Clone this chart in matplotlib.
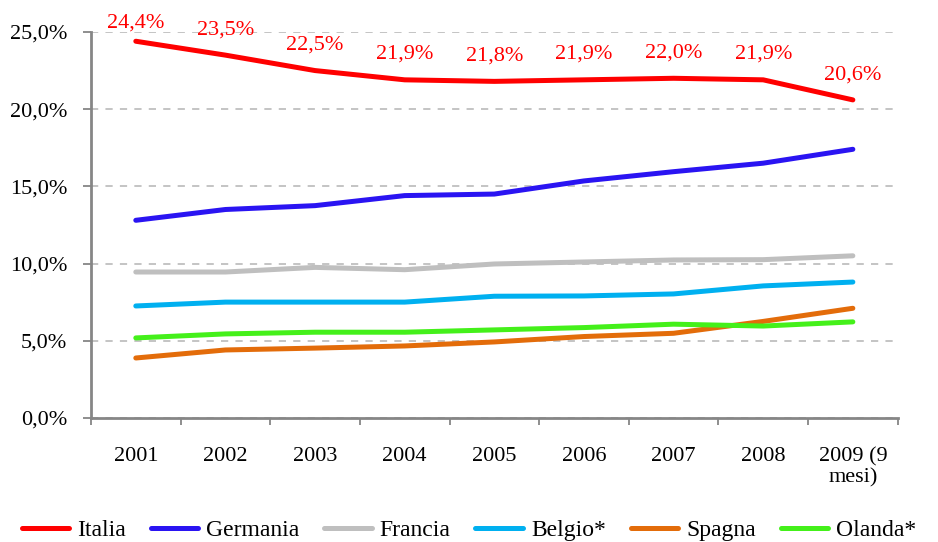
import matplotlib
matplotlib.use("Agg")
import matplotlib.pyplot as plt
from matplotlib.ticker import FixedLocator, FuncFormatter

years = ["2001", "2002", "2003", "2004", "2005", "2006", "2007", "2008", "2009 (9\nmesi)"]
italia = [24.4, 23.5, 22.5, 21.9, 21.8, 21.9, 22.0, 21.9, 20.6]
germania = [12.8, 13.5, 13.75, 14.4, 14.5, 15.35, 15.95, 16.5, 17.4]
francia = [9.45, 9.45, 9.75, 9.6, 9.97, 10.1, 10.23, 10.25, 10.5]
belgio = [7.25, 7.5, 7.5, 7.5, 7.88, 7.9, 8.03, 8.55, 8.8]
spagna = [3.88, 4.4, 4.52, 4.66, 4.92, 5.27, 5.48, 6.25, 7.1]
olanda = [5.18, 5.44, 5.55, 5.55, 5.7, 5.85, 6.07, 5.95, 6.22]

series = [
    ("Italia", italia, "#FF0000"),
    ("Germania", germania, "#2A14F2"),
    ("Francia", francia, "#BFBFBF"),
    ("Belgio*", belgio, "#00B0F0"),
    ("Spagna", spagna, "#E36C0A"),
    ("Olanda*", olanda, "#44F01A"),
]

plt.rcParams['font.family'] = ['Liberation Serif', 'DejaVu Serif']

fig = plt.figure(figsize=(9.38, 5.42), dpi=100)
ax = fig.add_axes([0.097, 0.229, 0.860, 0.712])

x = list(range(len(years)))
for name, vals, col in series:
    ax.plot(x, vals, color=col, lw=3.6, solid_capstyle='round', solid_joinstyle='round', label=name)

for xi, v in zip(x, italia):
    off = 10 if xi == 0 else 15
    ax.annotate(f"{v:.1f}%".replace('.', ','), (xi, v), xytext=(0, off), textcoords='offset points',
                ha='center', va='baseline', color='#FF0000', fontsize=16, annotation_clip=False)

ax.set_xlim(-0.5, len(years) - 0.5)
ax.set_ylim(0, 25)
ax.set_yticks([0, 5, 10, 15, 20, 25])
ax.yaxis.set_major_formatter(FuncFormatter(lambda v, p: f"{v:.1f}%".replace('.', ',')))
ax.yaxis.grid(True, linestyle=(0, (4, 4)), color='#BFBFBF', lw=1.3)
ax.set_axisbelow(True)

ax.set_xticks(x)
ax.set_xticklabels(years, fontsize=16, linespacing=1.15, va='top')
ax.tick_params(axis='x', which='major', length=0, pad=21)
ax.xaxis.set_minor_locator(FixedLocator([i - 0.5 for i in range(len(years) + 1)]))
ax.tick_params(axis='x', which='minor', length=5, width=1.3, color='#868686', direction='out')
ax.tick_params(axis='y', length=6, width=1.3, color='#868686', labelsize=16, pad=11)

for s in ['top', 'right']:
    ax.spines[s].set_visible(False)
for s in ['left', 'bottom']:
    ax.spines[s].set_color('#868686')
    ax.spines[s].set_linewidth(2)

fig.legend(loc='center', bbox_to_anchor=(0.5, 1 - 530 / 542), ncol=6, frameon=False,
           fontsize=17, handlelength=2.0, handletextpad=0.35, columnspacing=1.05,
           borderaxespad=0, borderpad=0)

fig.savefig("out.png", dpi=100)
